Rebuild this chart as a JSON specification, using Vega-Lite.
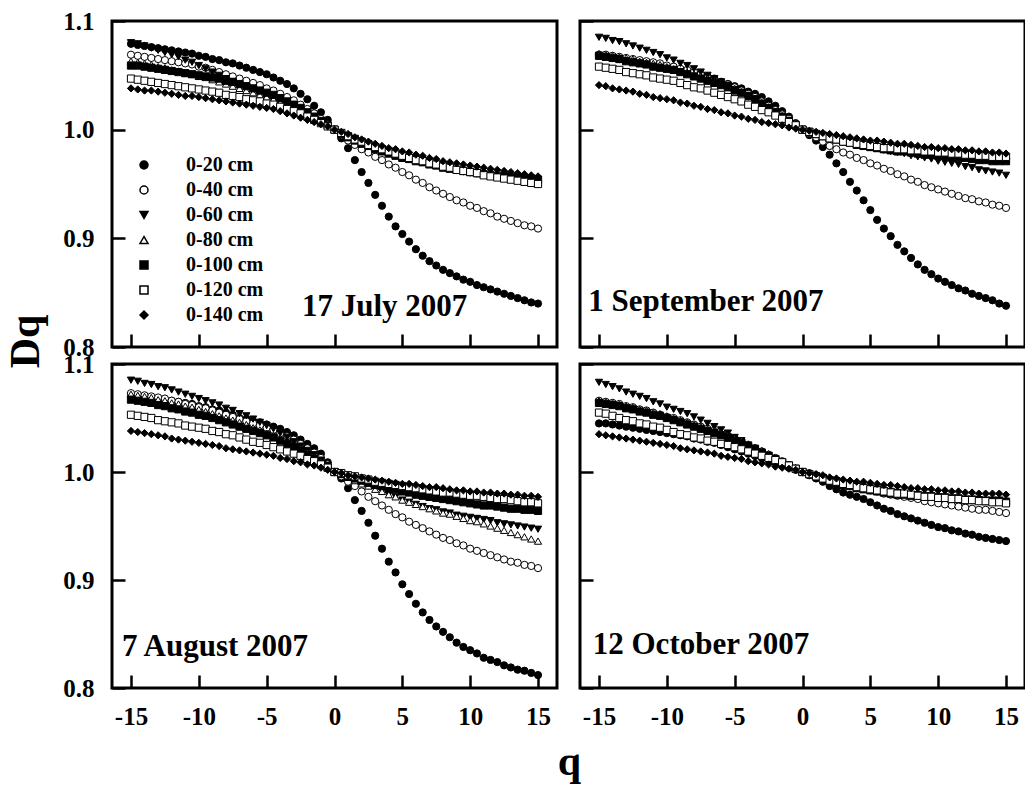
{
  "$schema": "https://vega.github.io/schema/vega-lite/v6.json",
  "background": "white",
  "padding": {"left": 2, "top": 7, "right": 0, "bottom": 0},
  "config": {
    "font": "Liberation Serif",
    "view": {"stroke": "black", "strokeWidth": 3},
    "axis": {
      "grid": false, "domain": false, "ticks": true, "tickColor": "black", "tickWidth": 2.5, "tickSize": -13,
      "labelFont": "Liberation Serif", "labelFontWeight": "bold", "labelFontSize": 25, "labelColor": "black",
      "labelFlush": false, "labelOverlap": false,
      "titleFont": "Liberation Serif", "titleFontWeight": "bold", "titleFontSize": 42, "titleColor": "black"
    }
  },
  "datasets": {
    "jul": [
      {"q":-15,"d":20,"D":1.079},{"q":-14.5,"d":20,"D":1.078},{"q":-14,"d":20,"D":1.077},{"q":-13.5,"d":20,"D":1.076},{"q":-13,"d":20,"D":1.075},{"q":-12.5,"d":20,"D":1.074},{"q":-12,"d":20,"D":1.073},{"q":-11.5,"d":20,"D":1.072},{"q":-11,"d":20,"D":1.071},{"q":-10.5,"d":20,"D":1.07},
      {"q":-10,"d":20,"D":1.068},{"q":-9.5,"d":20,"D":1.067},{"q":-9,"d":20,"D":1.065},{"q":-8.5,"d":20,"D":1.064},{"q":-8,"d":20,"D":1.062},{"q":-7.5,"d":20,"D":1.061},{"q":-7,"d":20,"D":1.059},{"q":-6.5,"d":20,"D":1.057},{"q":-6,"d":20,"D":1.055},{"q":-5.5,"d":20,"D":1.053},
      {"q":-5,"d":20,"D":1.051},{"q":-4.5,"d":20,"D":1.048},{"q":-4,"d":20,"D":1.045},{"q":-3.5,"d":20,"D":1.042},{"q":-3,"d":20,"D":1.038},{"q":-2.5,"d":20,"D":1.033},{"q":-2,"d":20,"D":1.028},{"q":-1.5,"d":20,"D":1.022},{"q":-1,"d":20,"D":1.016},{"q":-0.5,"d":20,"D":1.009},
      {"q":0,"d":20,"D":1},{"q":0.5,"d":20,"D":0.992},{"q":1,"d":20,"D":0.983},{"q":1.5,"d":20,"D":0.972},{"q":2,"d":20,"D":0.961},{"q":2.5,"d":20,"D":0.951},{"q":3,"d":20,"D":0.94},{"q":3.5,"d":20,"D":0.93},{"q":4,"d":20,"D":0.92},{"q":4.5,"d":20,"D":0.911},
      {"q":5,"d":20,"D":0.904},{"q":5.5,"d":20,"D":0.897},{"q":6,"d":20,"D":0.89},{"q":6.5,"d":20,"D":0.884},{"q":7,"d":20,"D":0.879},{"q":7.5,"d":20,"D":0.875},{"q":8,"d":20,"D":0.871},{"q":8.5,"d":20,"D":0.868},{"q":9,"d":20,"D":0.865},{"q":9.5,"d":20,"D":0.862},
      {"q":10,"d":20,"D":0.86},{"q":10.5,"d":20,"D":0.857},{"q":11,"d":20,"D":0.855},{"q":11.5,"d":20,"D":0.853},{"q":12,"d":20,"D":0.851},{"q":12.5,"d":20,"D":0.849},{"q":13,"d":20,"D":0.847},{"q":13.5,"d":20,"D":0.845},{"q":14,"d":20,"D":0.843},{"q":14.5,"d":20,"D":0.841},
      {"q":15,"d":20,"D":0.84},
      {"q":-15,"d":40,"D":1.069},{"q":-14.5,"d":40,"D":1.068},{"q":-14,"d":40,"D":1.067},{"q":-13.5,"d":40,"D":1.066},{"q":-13,"d":40,"D":1.065},{"q":-12.5,"d":40,"D":1.064},{"q":-12,"d":40,"D":1.063},{"q":-11.5,"d":40,"D":1.062},{"q":-11,"d":40,"D":1.061},{"q":-10.5,"d":40,"D":1.06},
      {"q":-10,"d":40,"D":1.058},{"q":-9.5,"d":40,"D":1.057},{"q":-9,"d":40,"D":1.055},{"q":-8.5,"d":40,"D":1.053},{"q":-8,"d":40,"D":1.051},{"q":-7.5,"d":40,"D":1.049},{"q":-7,"d":40,"D":1.047},{"q":-6.5,"d":40,"D":1.045},{"q":-6,"d":40,"D":1.043},{"q":-5.5,"d":40,"D":1.041},
      {"q":-5,"d":40,"D":1.038},{"q":-4.5,"d":40,"D":1.036},{"q":-4,"d":40,"D":1.033},{"q":-3.5,"d":40,"D":1.03},{"q":-3,"d":40,"D":1.027},{"q":-2.5,"d":40,"D":1.023},{"q":-2,"d":40,"D":1.019},{"q":-1.5,"d":40,"D":1.015},{"q":-1,"d":40,"D":1.01},{"q":-0.5,"d":40,"D":1.005},
      {"q":0,"d":40,"D":1},{"q":0.5,"d":40,"D":0.995},{"q":1,"d":40,"D":0.99},{"q":1.5,"d":40,"D":0.986},{"q":2,"d":40,"D":0.982},{"q":2.5,"d":40,"D":0.979},{"q":3,"d":40,"D":0.975},{"q":3.5,"d":40,"D":0.972},{"q":4,"d":40,"D":0.968},{"q":4.5,"d":40,"D":0.965},
      {"q":5,"d":40,"D":0.961},{"q":5.5,"d":40,"D":0.958},{"q":6,"d":40,"D":0.954},{"q":6.5,"d":40,"D":0.951},{"q":7,"d":40,"D":0.947},{"q":7.5,"d":40,"D":0.944},{"q":8,"d":40,"D":0.941},{"q":8.5,"d":40,"D":0.938},{"q":9,"d":40,"D":0.935},{"q":9.5,"d":40,"D":0.933},
      {"q":10,"d":40,"D":0.93},{"q":10.5,"d":40,"D":0.928},{"q":11,"d":40,"D":0.925},{"q":11.5,"d":40,"D":0.923},{"q":12,"d":40,"D":0.92},{"q":12.5,"d":40,"D":0.918},{"q":13,"d":40,"D":0.916},{"q":13.5,"d":40,"D":0.914},{"q":14,"d":40,"D":0.912},{"q":14.5,"d":40,"D":0.911},
      {"q":15,"d":40,"D":0.909},
      {"q":-15,"d":60,"D":1.08},{"q":-14.5,"d":60,"D":1.079},{"q":-14,"d":60,"D":1.077},{"q":-13.5,"d":60,"D":1.075},{"q":-13,"d":60,"D":1.073},{"q":-12.5,"d":60,"D":1.071},{"q":-12,"d":60,"D":1.069},{"q":-11.5,"d":60,"D":1.067},{"q":-11,"d":60,"D":1.064},{"q":-10.5,"d":60,"D":1.062},
      {"q":-10,"d":60,"D":1.059},{"q":-9.5,"d":60,"D":1.056},{"q":-9,"d":60,"D":1.053},{"q":-8.5,"d":60,"D":1.05},{"q":-8,"d":60,"D":1.047},{"q":-7.5,"d":60,"D":1.044},{"q":-7,"d":60,"D":1.041},{"q":-6.5,"d":60,"D":1.038},{"q":-6,"d":60,"D":1.035},{"q":-5.5,"d":60,"D":1.032},
      {"q":-5,"d":60,"D":1.029},{"q":-4.5,"d":60,"D":1.027},{"q":-4,"d":60,"D":1.024},{"q":-3.5,"d":60,"D":1.021},{"q":-3,"d":60,"D":1.018},{"q":-2.5,"d":60,"D":1.015},{"q":-2,"d":60,"D":1.012},{"q":-1.5,"d":60,"D":1.009},{"q":-1,"d":60,"D":1.006},{"q":-0.5,"d":60,"D":1.003},
      {"q":0,"d":60,"D":1},{"q":0.5,"d":60,"D":0.997},{"q":1,"d":60,"D":0.994},{"q":1.5,"d":60,"D":0.992},{"q":2,"d":60,"D":0.989},{"q":2.5,"d":60,"D":0.987},{"q":3,"d":60,"D":0.984},{"q":3.5,"d":60,"D":0.982},{"q":4,"d":60,"D":0.979},{"q":4.5,"d":60,"D":0.977},
      {"q":5,"d":60,"D":0.975},{"q":5.5,"d":60,"D":0.973},{"q":6,"d":60,"D":0.971},{"q":6.5,"d":60,"D":0.97},{"q":7,"d":60,"D":0.968},{"q":7.5,"d":60,"D":0.967},{"q":8,"d":60,"D":0.965},{"q":8.5,"d":60,"D":0.964},{"q":9,"d":60,"D":0.962},{"q":9.5,"d":60,"D":0.961},
      {"q":10,"d":60,"D":0.96},{"q":10.5,"d":60,"D":0.959},{"q":11,"d":60,"D":0.958},{"q":11.5,"d":60,"D":0.957},{"q":12,"d":60,"D":0.956},{"q":12.5,"d":60,"D":0.955},{"q":13,"d":60,"D":0.954},{"q":13.5,"d":60,"D":0.954},{"q":14,"d":60,"D":0.953},{"q":14.5,"d":60,"D":0.952},
      {"q":15,"d":60,"D":0.951},
      {"q":-15,"d":80,"D":1.063},{"q":-14.5,"d":80,"D":1.062},{"q":-14,"d":80,"D":1.061},{"q":-13.5,"d":80,"D":1.06},{"q":-13,"d":80,"D":1.058},{"q":-12.5,"d":80,"D":1.057},{"q":-12,"d":80,"D":1.055},{"q":-11.5,"d":80,"D":1.054},{"q":-11,"d":80,"D":1.052},{"q":-10.5,"d":80,"D":1.051},
      {"q":-10,"d":80,"D":1.049},{"q":-9.5,"d":80,"D":1.048},{"q":-9,"d":80,"D":1.046},{"q":-8.5,"d":80,"D":1.044},{"q":-8,"d":80,"D":1.042},{"q":-7.5,"d":80,"D":1.04},{"q":-7,"d":80,"D":1.038},{"q":-6.5,"d":80,"D":1.036},{"q":-6,"d":80,"D":1.034},{"q":-5.5,"d":80,"D":1.032},
      {"q":-5,"d":80,"D":1.03},{"q":-4.5,"d":80,"D":1.028},{"q":-4,"d":80,"D":1.025},{"q":-3.5,"d":80,"D":1.022},{"q":-3,"d":80,"D":1.019},{"q":-2.5,"d":80,"D":1.016},{"q":-2,"d":80,"D":1.013},{"q":-1.5,"d":80,"D":1.01},{"q":-1,"d":80,"D":1.007},{"q":-0.5,"d":80,"D":1.004},
      {"q":0,"d":80,"D":1},{"q":0.5,"d":80,"D":0.997},{"q":1,"d":80,"D":0.994},{"q":1.5,"d":80,"D":0.991},{"q":2,"d":80,"D":0.988},{"q":2.5,"d":80,"D":0.986},{"q":3,"d":80,"D":0.983},{"q":3.5,"d":80,"D":0.981},{"q":4,"d":80,"D":0.979},{"q":4.5,"d":80,"D":0.978},
      {"q":5,"d":80,"D":0.976},{"q":5.5,"d":80,"D":0.975},{"q":6,"d":80,"D":0.973},{"q":6.5,"d":80,"D":0.972},{"q":7,"d":80,"D":0.97},{"q":7.5,"d":80,"D":0.969},{"q":8,"d":80,"D":0.968},{"q":8.5,"d":80,"D":0.967},{"q":9,"d":80,"D":0.966},{"q":9.5,"d":80,"D":0.965},
      {"q":10,"d":80,"D":0.964},{"q":10.5,"d":80,"D":0.963},{"q":11,"d":80,"D":0.962},{"q":11.5,"d":80,"D":0.961},{"q":12,"d":80,"D":0.96},{"q":12.5,"d":80,"D":0.959},{"q":13,"d":80,"D":0.958},{"q":13.5,"d":80,"D":0.957},{"q":14,"d":80,"D":0.956},{"q":14.5,"d":80,"D":0.955},
      {"q":15,"d":80,"D":0.954},
      {"q":-15,"d":100,"D":1.059},{"q":-14.5,"d":100,"D":1.059},{"q":-14,"d":100,"D":1.058},{"q":-13.5,"d":100,"D":1.057},{"q":-13,"d":100,"D":1.056},{"q":-12.5,"d":100,"D":1.055},{"q":-12,"d":100,"D":1.054},{"q":-11.5,"d":100,"D":1.053},{"q":-11,"d":100,"D":1.052},{"q":-10.5,"d":100,"D":1.051},
      {"q":-10,"d":100,"D":1.05},{"q":-9.5,"d":100,"D":1.049},{"q":-9,"d":100,"D":1.048},{"q":-8.5,"d":100,"D":1.047},{"q":-8,"d":100,"D":1.045},{"q":-7.5,"d":100,"D":1.044},{"q":-7,"d":100,"D":1.042},{"q":-6.5,"d":100,"D":1.04},{"q":-6,"d":100,"D":1.038},{"q":-5.5,"d":100,"D":1.036},
      {"q":-5,"d":100,"D":1.034},{"q":-4.5,"d":100,"D":1.032},{"q":-4,"d":100,"D":1.029},{"q":-3.5,"d":100,"D":1.026},{"q":-3,"d":100,"D":1.023},{"q":-2.5,"d":100,"D":1.02},{"q":-2,"d":100,"D":1.016},{"q":-1.5,"d":100,"D":1.012},{"q":-1,"d":100,"D":1.008},{"q":-0.5,"d":100,"D":1.004},
      {"q":0,"d":100,"D":1},{"q":0.5,"d":100,"D":0.996},{"q":1,"d":100,"D":0.993},{"q":1.5,"d":100,"D":0.99},{"q":2,"d":100,"D":0.987},{"q":2.5,"d":100,"D":0.985},{"q":3,"d":100,"D":0.982},{"q":3.5,"d":100,"D":0.98},{"q":4,"d":100,"D":0.978},{"q":4.5,"d":100,"D":0.976},
      {"q":5,"d":100,"D":0.974},{"q":5.5,"d":100,"D":0.973},{"q":6,"d":100,"D":0.971},{"q":6.5,"d":100,"D":0.97},{"q":7,"d":100,"D":0.968},{"q":7.5,"d":100,"D":0.967},{"q":8,"d":100,"D":0.965},{"q":8.5,"d":100,"D":0.964},{"q":9,"d":100,"D":0.963},{"q":9.5,"d":100,"D":0.962},
      {"q":10,"d":100,"D":0.961},{"q":10.5,"d":100,"D":0.96},{"q":11,"d":100,"D":0.959},{"q":11.5,"d":100,"D":0.958},{"q":12,"d":100,"D":0.957},{"q":12.5,"d":100,"D":0.957},{"q":13,"d":100,"D":0.956},{"q":13.5,"d":100,"D":0.956},{"q":14,"d":100,"D":0.955},{"q":14.5,"d":100,"D":0.955},
      {"q":15,"d":100,"D":0.954},
      {"q":-15,"d":120,"D":1.047},{"q":-14.5,"d":120,"D":1.046},{"q":-14,"d":120,"D":1.045},{"q":-13.5,"d":120,"D":1.044},{"q":-13,"d":120,"D":1.043},{"q":-12.5,"d":120,"D":1.042},{"q":-12,"d":120,"D":1.041},{"q":-11.5,"d":120,"D":1.04},{"q":-11,"d":120,"D":1.039},{"q":-10.5,"d":120,"D":1.038},
      {"q":-10,"d":120,"D":1.037},{"q":-9.5,"d":120,"D":1.036},{"q":-9,"d":120,"D":1.035},{"q":-8.5,"d":120,"D":1.034},{"q":-8,"d":120,"D":1.032},{"q":-7.5,"d":120,"D":1.031},{"q":-7,"d":120,"D":1.03},{"q":-6.5,"d":120,"D":1.028},{"q":-6,"d":120,"D":1.027},{"q":-5.5,"d":120,"D":1.026},
      {"q":-5,"d":120,"D":1.024},{"q":-4.5,"d":120,"D":1.023},{"q":-4,"d":120,"D":1.021},{"q":-3.5,"d":120,"D":1.019},{"q":-3,"d":120,"D":1.017},{"q":-2.5,"d":120,"D":1.015},{"q":-2,"d":120,"D":1.012},{"q":-1.5,"d":120,"D":1.009},{"q":-1,"d":120,"D":1.006},{"q":-0.5,"d":120,"D":1.003},
      {"q":0,"d":120,"D":1},{"q":0.5,"d":120,"D":0.997},{"q":1,"d":120,"D":0.994},{"q":1.5,"d":120,"D":0.991},{"q":2,"d":120,"D":0.989},{"q":2.5,"d":120,"D":0.986},{"q":3,"d":120,"D":0.984},{"q":3.5,"d":120,"D":0.982},{"q":4,"d":120,"D":0.98},{"q":4.5,"d":120,"D":0.978},
      {"q":5,"d":120,"D":0.976},{"q":5.5,"d":120,"D":0.974},{"q":6,"d":120,"D":0.972},{"q":6.5,"d":120,"D":0.971},{"q":7,"d":120,"D":0.969},{"q":7.5,"d":120,"D":0.968},{"q":8,"d":120,"D":0.966},{"q":8.5,"d":120,"D":0.965},{"q":9,"d":120,"D":0.963},{"q":9.5,"d":120,"D":0.962},
      {"q":10,"d":120,"D":0.961},{"q":10.5,"d":120,"D":0.96},{"q":11,"d":120,"D":0.958},{"q":11.5,"d":120,"D":0.957},{"q":12,"d":120,"D":0.956},{"q":12.5,"d":120,"D":0.955},{"q":13,"d":120,"D":0.954},{"q":13.5,"d":120,"D":0.953},{"q":14,"d":120,"D":0.952},{"q":14.5,"d":120,"D":0.951},
      {"q":15,"d":120,"D":0.95},
      {"q":-15,"d":140,"D":1.038},{"q":-14.5,"d":140,"D":1.037},{"q":-14,"d":140,"D":1.036},{"q":-13.5,"d":140,"D":1.036},{"q":-13,"d":140,"D":1.035},{"q":-12.5,"d":140,"D":1.034},{"q":-12,"d":140,"D":1.033},{"q":-11.5,"d":140,"D":1.032},{"q":-11,"d":140,"D":1.031},{"q":-10.5,"d":140,"D":1.031},
      {"q":-10,"d":140,"D":1.03},{"q":-9.5,"d":140,"D":1.029},{"q":-9,"d":140,"D":1.028},{"q":-8.5,"d":140,"D":1.027},{"q":-8,"d":140,"D":1.026},{"q":-7.5,"d":140,"D":1.025},{"q":-7,"d":140,"D":1.024},{"q":-6.5,"d":140,"D":1.023},{"q":-6,"d":140,"D":1.022},{"q":-5.5,"d":140,"D":1.021},
      {"q":-5,"d":140,"D":1.02},{"q":-4.5,"d":140,"D":1.019},{"q":-4,"d":140,"D":1.017},{"q":-3.5,"d":140,"D":1.015},{"q":-3,"d":140,"D":1.013},{"q":-2.5,"d":140,"D":1.011},{"q":-2,"d":140,"D":1.009},{"q":-1.5,"d":140,"D":1.007},{"q":-1,"d":140,"D":1.005},{"q":-0.5,"d":140,"D":1.003},
      {"q":0,"d":140,"D":1},{"q":0.5,"d":140,"D":0.998},{"q":1,"d":140,"D":0.996},{"q":1.5,"d":140,"D":0.993},{"q":2,"d":140,"D":0.991},{"q":2.5,"d":140,"D":0.989},{"q":3,"d":140,"D":0.987},{"q":3.5,"d":140,"D":0.985},{"q":4,"d":140,"D":0.983},{"q":4.5,"d":140,"D":0.982},
      {"q":5,"d":140,"D":0.98},{"q":5.5,"d":140,"D":0.979},{"q":6,"d":140,"D":0.977},{"q":6.5,"d":140,"D":0.976},{"q":7,"d":140,"D":0.974},{"q":7.5,"d":140,"D":0.973},{"q":8,"d":140,"D":0.971},{"q":8.5,"d":140,"D":0.97},{"q":9,"d":140,"D":0.969},{"q":9.5,"d":140,"D":0.968},
      {"q":10,"d":140,"D":0.967},{"q":10.5,"d":140,"D":0.966},{"q":11,"d":140,"D":0.965},{"q":11.5,"d":140,"D":0.964},{"q":12,"d":140,"D":0.963},{"q":12.5,"d":140,"D":0.962},{"q":13,"d":140,"D":0.961},{"q":13.5,"d":140,"D":0.96},{"q":14,"d":140,"D":0.959},{"q":14.5,"d":140,"D":0.958},
      {"q":15,"d":140,"D":0.957}
    ],
    "sep": [
      {"q":-15,"d":20,"D":1.068},{"q":-14.5,"d":20,"D":1.067},{"q":-14,"d":20,"D":1.066},{"q":-13.5,"d":20,"D":1.065},{"q":-13,"d":20,"D":1.064},{"q":-12.5,"d":20,"D":1.063},{"q":-12,"d":20,"D":1.062},{"q":-11.5,"d":20,"D":1.061},{"q":-11,"d":20,"D":1.06},{"q":-10.5,"d":20,"D":1.059},
      {"q":-10,"d":20,"D":1.057},{"q":-9.5,"d":20,"D":1.056},{"q":-9,"d":20,"D":1.054},{"q":-8.5,"d":20,"D":1.053},{"q":-8,"d":20,"D":1.051},{"q":-7.5,"d":20,"D":1.05},{"q":-7,"d":20,"D":1.048},{"q":-6.5,"d":20,"D":1.046},{"q":-6,"d":20,"D":1.044},{"q":-5.5,"d":20,"D":1.042},
      {"q":-5,"d":20,"D":1.04},{"q":-4.5,"d":20,"D":1.038},{"q":-4,"d":20,"D":1.035},{"q":-3.5,"d":20,"D":1.033},{"q":-3,"d":20,"D":1.03},{"q":-2.5,"d":20,"D":1.026},{"q":-2,"d":20,"D":1.022},{"q":-1.5,"d":20,"D":1.017},{"q":-1,"d":20,"D":1.012},{"q":-0.5,"d":20,"D":1.006},
      {"q":0,"d":20,"D":1},{"q":0.5,"d":20,"D":0.995},{"q":1,"d":20,"D":0.99},{"q":1.5,"d":20,"D":0.984},{"q":2,"d":20,"D":0.977},{"q":2.5,"d":20,"D":0.969},{"q":3,"d":20,"D":0.961},{"q":3.5,"d":20,"D":0.952},{"q":4,"d":20,"D":0.944},{"q":4.5,"d":20,"D":0.935},
      {"q":5,"d":20,"D":0.926},{"q":5.5,"d":20,"D":0.917},{"q":6,"d":20,"D":0.909},{"q":6.5,"d":20,"D":0.902},{"q":7,"d":20,"D":0.894},{"q":7.5,"d":20,"D":0.888},{"q":8,"d":20,"D":0.882},{"q":8.5,"d":20,"D":0.876},{"q":9,"d":20,"D":0.871},{"q":9.5,"d":20,"D":0.867},
      {"q":10,"d":20,"D":0.863},{"q":10.5,"d":20,"D":0.86},{"q":11,"d":20,"D":0.857},{"q":11.5,"d":20,"D":0.854},{"q":12,"d":20,"D":0.852},{"q":12.5,"d":20,"D":0.849},{"q":13,"d":20,"D":0.847},{"q":13.5,"d":20,"D":0.845},{"q":14,"d":20,"D":0.843},{"q":14.5,"d":20,"D":0.84},
      {"q":15,"d":20,"D":0.838},
      {"q":-15,"d":40,"D":1.069},{"q":-14.5,"d":40,"D":1.069},{"q":-14,"d":40,"D":1.068},{"q":-13.5,"d":40,"D":1.067},{"q":-13,"d":40,"D":1.066},{"q":-12.5,"d":40,"D":1.065},{"q":-12,"d":40,"D":1.064},{"q":-11.5,"d":40,"D":1.063},{"q":-11,"d":40,"D":1.062},{"q":-10.5,"d":40,"D":1.061},
      {"q":-10,"d":40,"D":1.059},{"q":-9.5,"d":40,"D":1.058},{"q":-9,"d":40,"D":1.056},{"q":-8.5,"d":40,"D":1.055},{"q":-8,"d":40,"D":1.053},{"q":-7.5,"d":40,"D":1.051},{"q":-7,"d":40,"D":1.049},{"q":-6.5,"d":40,"D":1.047},{"q":-6,"d":40,"D":1.044},{"q":-5.5,"d":40,"D":1.042},
      {"q":-5,"d":40,"D":1.039},{"q":-4.5,"d":40,"D":1.036},{"q":-4,"d":40,"D":1.033},{"q":-3.5,"d":40,"D":1.03},{"q":-3,"d":40,"D":1.026},{"q":-2.5,"d":40,"D":1.022},{"q":-2,"d":40,"D":1.018},{"q":-1.5,"d":40,"D":1.014},{"q":-1,"d":40,"D":1.01},{"q":-0.5,"d":40,"D":1.005},
      {"q":0,"d":40,"D":1},{"q":0.5,"d":40,"D":0.997},{"q":1,"d":40,"D":0.993},{"q":1.5,"d":40,"D":0.989},{"q":2,"d":40,"D":0.985},{"q":2.5,"d":40,"D":0.982},{"q":3,"d":40,"D":0.979},{"q":3.5,"d":40,"D":0.977},{"q":4,"d":40,"D":0.974},{"q":4.5,"d":40,"D":0.972},
      {"q":5,"d":40,"D":0.969},{"q":5.5,"d":40,"D":0.967},{"q":6,"d":40,"D":0.964},{"q":6.5,"d":40,"D":0.962},{"q":7,"d":40,"D":0.959},{"q":7.5,"d":40,"D":0.957},{"q":8,"d":40,"D":0.954},{"q":8.5,"d":40,"D":0.952},{"q":9,"d":40,"D":0.949},{"q":9.5,"d":40,"D":0.947},
      {"q":10,"d":40,"D":0.945},{"q":10.5,"d":40,"D":0.943},{"q":11,"d":40,"D":0.941},{"q":11.5,"d":40,"D":0.939},{"q":12,"d":40,"D":0.937},{"q":12.5,"d":40,"D":0.936},{"q":13,"d":40,"D":0.934},{"q":13.5,"d":40,"D":0.933},{"q":14,"d":40,"D":0.931},{"q":14.5,"d":40,"D":0.93},
      {"q":15,"d":40,"D":0.928},
      {"q":-15,"d":60,"D":1.085},{"q":-14.5,"d":60,"D":1.084},{"q":-14,"d":60,"D":1.082},{"q":-13.5,"d":60,"D":1.081},{"q":-13,"d":60,"D":1.079},{"q":-12.5,"d":60,"D":1.077},{"q":-12,"d":60,"D":1.075},{"q":-11.5,"d":60,"D":1.073},{"q":-11,"d":60,"D":1.071},{"q":-10.5,"d":60,"D":1.069},
      {"q":-10,"d":60,"D":1.066},{"q":-9.5,"d":60,"D":1.064},{"q":-9,"d":60,"D":1.061},{"q":-8.5,"d":60,"D":1.059},{"q":-8,"d":60,"D":1.056},{"q":-7.5,"d":60,"D":1.053},{"q":-7,"d":60,"D":1.05},{"q":-6.5,"d":60,"D":1.047},{"q":-6,"d":60,"D":1.044},{"q":-5.5,"d":60,"D":1.041},
      {"q":-5,"d":60,"D":1.037},{"q":-4.5,"d":60,"D":1.034},{"q":-4,"d":60,"D":1.03},{"q":-3.5,"d":60,"D":1.027},{"q":-3,"d":60,"D":1.023},{"q":-2.5,"d":60,"D":1.02},{"q":-2,"d":60,"D":1.016},{"q":-1.5,"d":60,"D":1.012},{"q":-1,"d":60,"D":1.008},{"q":-0.5,"d":60,"D":1.004},
      {"q":0,"d":60,"D":1},{"q":0.5,"d":60,"D":0.998},{"q":1,"d":60,"D":0.996},{"q":1.5,"d":60,"D":0.995},{"q":2,"d":60,"D":0.993},{"q":2.5,"d":60,"D":0.991},{"q":3,"d":60,"D":0.989},{"q":3.5,"d":60,"D":0.988},{"q":4,"d":60,"D":0.986},{"q":4.5,"d":60,"D":0.985},
      {"q":5,"d":60,"D":0.984},{"q":5.5,"d":60,"D":0.983},{"q":6,"d":60,"D":0.981},{"q":6.5,"d":60,"D":0.98},{"q":7,"d":60,"D":0.979},{"q":7.5,"d":60,"D":0.978},{"q":8,"d":60,"D":0.976},{"q":8.5,"d":60,"D":0.975},{"q":9,"d":60,"D":0.974},{"q":9.5,"d":60,"D":0.973},
      {"q":10,"d":60,"D":0.971},{"q":10.5,"d":60,"D":0.97},{"q":11,"d":60,"D":0.969},{"q":11.5,"d":60,"D":0.968},{"q":12,"d":60,"D":0.966},{"q":12.5,"d":60,"D":0.965},{"q":13,"d":60,"D":0.963},{"q":13.5,"d":60,"D":0.962},{"q":14,"d":60,"D":0.961},{"q":14.5,"d":60,"D":0.96},
      {"q":15,"d":60,"D":0.958},
      {"q":-15,"d":80,"D":1.07},{"q":-14.5,"d":80,"D":1.069},{"q":-14,"d":80,"D":1.068},{"q":-13.5,"d":80,"D":1.067},{"q":-13,"d":80,"D":1.066},{"q":-12.5,"d":80,"D":1.065},{"q":-12,"d":80,"D":1.063},{"q":-11.5,"d":80,"D":1.062},{"q":-11,"d":80,"D":1.061},{"q":-10.5,"d":80,"D":1.06},
      {"q":-10,"d":80,"D":1.058},{"q":-9.5,"d":80,"D":1.056},{"q":-9,"d":80,"D":1.054},{"q":-8.5,"d":80,"D":1.053},{"q":-8,"d":80,"D":1.051},{"q":-7.5,"d":80,"D":1.049},{"q":-7,"d":80,"D":1.047},{"q":-6.5,"d":80,"D":1.045},{"q":-6,"d":80,"D":1.043},{"q":-5.5,"d":80,"D":1.041},
      {"q":-5,"d":80,"D":1.038},{"q":-4.5,"d":80,"D":1.035},{"q":-4,"d":80,"D":1.032},{"q":-3.5,"d":80,"D":1.029},{"q":-3,"d":80,"D":1.025},{"q":-2.5,"d":80,"D":1.021},{"q":-2,"d":80,"D":1.017},{"q":-1.5,"d":80,"D":1.013},{"q":-1,"d":80,"D":1.009},{"q":-0.5,"d":80,"D":1.005},
      {"q":0,"d":80,"D":1},{"q":0.5,"d":80,"D":0.998},{"q":1,"d":80,"D":0.996},{"q":1.5,"d":80,"D":0.994},{"q":2,"d":80,"D":0.992},{"q":2.5,"d":80,"D":0.991},{"q":3,"d":80,"D":0.989},{"q":3.5,"d":80,"D":0.988},{"q":4,"d":80,"D":0.986},{"q":4.5,"d":80,"D":0.985},
      {"q":5,"d":80,"D":0.984},{"q":5.5,"d":80,"D":0.983},{"q":6,"d":80,"D":0.982},{"q":6.5,"d":80,"D":0.981},{"q":7,"d":80,"D":0.98},{"q":7.5,"d":80,"D":0.98},{"q":8,"d":80,"D":0.979},{"q":8.5,"d":80,"D":0.979},{"q":9,"d":80,"D":0.978},{"q":9.5,"d":80,"D":0.978},
      {"q":10,"d":80,"D":0.977},{"q":10.5,"d":80,"D":0.977},{"q":11,"d":80,"D":0.976},{"q":11.5,"d":80,"D":0.976},{"q":12,"d":80,"D":0.975},{"q":12.5,"d":80,"D":0.975},{"q":13,"d":80,"D":0.974},{"q":13.5,"d":80,"D":0.974},{"q":14,"d":80,"D":0.973},{"q":14.5,"d":80,"D":0.973},
      {"q":15,"d":80,"D":0.973},
      {"q":-15,"d":100,"D":1.068},{"q":-14.5,"d":100,"D":1.067},{"q":-14,"d":100,"D":1.066},{"q":-13.5,"d":100,"D":1.065},{"q":-13,"d":100,"D":1.063},{"q":-12.5,"d":100,"D":1.062},{"q":-12,"d":100,"D":1.061},{"q":-11.5,"d":100,"D":1.06},{"q":-11,"d":100,"D":1.058},{"q":-10.5,"d":100,"D":1.057},
      {"q":-10,"d":100,"D":1.056},{"q":-9.5,"d":100,"D":1.055},{"q":-9,"d":100,"D":1.053},{"q":-8.5,"d":100,"D":1.051},{"q":-8,"d":100,"D":1.049},{"q":-7.5,"d":100,"D":1.047},{"q":-7,"d":100,"D":1.045},{"q":-6.5,"d":100,"D":1.043},{"q":-6,"d":100,"D":1.041},{"q":-5.5,"d":100,"D":1.039},
      {"q":-5,"d":100,"D":1.036},{"q":-4.5,"d":100,"D":1.034},{"q":-4,"d":100,"D":1.031},{"q":-3.5,"d":100,"D":1.028},{"q":-3,"d":100,"D":1.024},{"q":-2.5,"d":100,"D":1.02},{"q":-2,"d":100,"D":1.016},{"q":-1.5,"d":100,"D":1.012},{"q":-1,"d":100,"D":1.008},{"q":-0.5,"d":100,"D":1.004},
      {"q":0,"d":100,"D":1},{"q":0.5,"d":100,"D":0.998},{"q":1,"d":100,"D":0.996},{"q":1.5,"d":100,"D":0.994},{"q":2,"d":100,"D":0.992},{"q":2.5,"d":100,"D":0.991},{"q":3,"d":100,"D":0.989},{"q":3.5,"d":100,"D":0.988},{"q":4,"d":100,"D":0.986},{"q":4.5,"d":100,"D":0.985},
      {"q":5,"d":100,"D":0.984},{"q":5.5,"d":100,"D":0.983},{"q":6,"d":100,"D":0.982},{"q":6.5,"d":100,"D":0.981},{"q":7,"d":100,"D":0.98},{"q":7.5,"d":100,"D":0.98},{"q":8,"d":100,"D":0.979},{"q":8.5,"d":100,"D":0.978},{"q":9,"d":100,"D":0.977},{"q":9.5,"d":100,"D":0.977},
      {"q":10,"d":100,"D":0.976},{"q":10.5,"d":100,"D":0.976},{"q":11,"d":100,"D":0.975},{"q":11.5,"d":100,"D":0.975},{"q":12,"d":100,"D":0.974},{"q":12.5,"d":100,"D":0.973},{"q":13,"d":100,"D":0.972},{"q":13.5,"d":100,"D":0.972},{"q":14,"d":100,"D":0.971},{"q":14.5,"d":100,"D":0.971},
      {"q":15,"d":100,"D":0.971},
      {"q":-15,"d":120,"D":1.058},{"q":-14.5,"d":120,"D":1.057},{"q":-14,"d":120,"D":1.056},{"q":-13.5,"d":120,"D":1.055},{"q":-13,"d":120,"D":1.053},{"q":-12.5,"d":120,"D":1.052},{"q":-12,"d":120,"D":1.051},{"q":-11.5,"d":120,"D":1.05},{"q":-11,"d":120,"D":1.048},{"q":-10.5,"d":120,"D":1.047},
      {"q":-10,"d":120,"D":1.046},{"q":-9.5,"d":120,"D":1.045},{"q":-9,"d":120,"D":1.043},{"q":-8.5,"d":120,"D":1.041},{"q":-8,"d":120,"D":1.039},{"q":-7.5,"d":120,"D":1.038},{"q":-7,"d":120,"D":1.036},{"q":-6.5,"d":120,"D":1.034},{"q":-6,"d":120,"D":1.032},{"q":-5.5,"d":120,"D":1.03},
      {"q":-5,"d":120,"D":1.028},{"q":-4.5,"d":120,"D":1.026},{"q":-4,"d":120,"D":1.023},{"q":-3.5,"d":120,"D":1.021},{"q":-3,"d":120,"D":1.018},{"q":-2.5,"d":120,"D":1.016},{"q":-2,"d":120,"D":1.013},{"q":-1.5,"d":120,"D":1.01},{"q":-1,"d":120,"D":1.007},{"q":-0.5,"d":120,"D":1.004},
      {"q":0,"d":120,"D":1},{"q":0.5,"d":120,"D":0.998},{"q":1,"d":120,"D":0.996},{"q":1.5,"d":120,"D":0.994},{"q":2,"d":120,"D":0.992},{"q":2.5,"d":120,"D":0.991},{"q":3,"d":120,"D":0.989},{"q":3.5,"d":120,"D":0.988},{"q":4,"d":120,"D":0.987},{"q":4.5,"d":120,"D":0.986},
      {"q":5,"d":120,"D":0.985},{"q":5.5,"d":120,"D":0.984},{"q":6,"d":120,"D":0.983},{"q":6.5,"d":120,"D":0.983},{"q":7,"d":120,"D":0.982},{"q":7.5,"d":120,"D":0.982},{"q":8,"d":120,"D":0.981},{"q":8.5,"d":120,"D":0.981},{"q":9,"d":120,"D":0.98},{"q":9.5,"d":120,"D":0.98},
      {"q":10,"d":120,"D":0.979},{"q":10.5,"d":120,"D":0.979},{"q":11,"d":120,"D":0.978},{"q":11.5,"d":120,"D":0.978},{"q":12,"d":120,"D":0.977},{"q":12.5,"d":120,"D":0.977},{"q":13,"d":120,"D":0.976},{"q":13.5,"d":120,"D":0.976},{"q":14,"d":120,"D":0.975},{"q":14.5,"d":120,"D":0.975},
      {"q":15,"d":120,"D":0.975},
      {"q":-15,"d":140,"D":1.041},{"q":-14.5,"d":140,"D":1.04},{"q":-14,"d":140,"D":1.038},{"q":-13.5,"d":140,"D":1.037},{"q":-13,"d":140,"D":1.036},{"q":-12.5,"d":140,"D":1.035},{"q":-12,"d":140,"D":1.033},{"q":-11.5,"d":140,"D":1.032},{"q":-11,"d":140,"D":1.03},{"q":-10.5,"d":140,"D":1.029},
      {"q":-10,"d":140,"D":1.028},{"q":-9.5,"d":140,"D":1.027},{"q":-9,"d":140,"D":1.025},{"q":-8.5,"d":140,"D":1.024},{"q":-8,"d":140,"D":1.022},{"q":-7.5,"d":140,"D":1.021},{"q":-7,"d":140,"D":1.019},{"q":-6.5,"d":140,"D":1.018},{"q":-6,"d":140,"D":1.016},{"q":-5.5,"d":140,"D":1.015},
      {"q":-5,"d":140,"D":1.013},{"q":-4.5,"d":140,"D":1.012},{"q":-4,"d":140,"D":1.01},{"q":-3.5,"d":140,"D":1.009},{"q":-3,"d":140,"D":1.007},{"q":-2.5,"d":140,"D":1.006},{"q":-2,"d":140,"D":1.005},{"q":-1.5,"d":140,"D":1.004},{"q":-1,"d":140,"D":1.002},{"q":-0.5,"d":140,"D":1.001},
      {"q":0,"d":140,"D":1},{"q":0.5,"d":140,"D":0.999},{"q":1,"d":140,"D":0.998},{"q":1.5,"d":140,"D":0.997},{"q":2,"d":140,"D":0.996},{"q":2.5,"d":140,"D":0.995},{"q":3,"d":140,"D":0.994},{"q":3.5,"d":140,"D":0.993},{"q":4,"d":140,"D":0.992},{"q":4.5,"d":140,"D":0.991},
      {"q":5,"d":140,"D":0.99},{"q":5.5,"d":140,"D":0.99},{"q":6,"d":140,"D":0.989},{"q":6.5,"d":140,"D":0.988},{"q":7,"d":140,"D":0.987},{"q":7.5,"d":140,"D":0.987},{"q":8,"d":140,"D":0.986},{"q":8.5,"d":140,"D":0.985},{"q":9,"d":140,"D":0.984},{"q":9.5,"d":140,"D":0.984},
      {"q":10,"d":140,"D":0.983},{"q":10.5,"d":140,"D":0.983},{"q":11,"d":140,"D":0.982},{"q":11.5,"d":140,"D":0.982},{"q":12,"d":140,"D":0.981},{"q":12.5,"d":140,"D":0.981},{"q":13,"d":140,"D":0.98},{"q":13.5,"d":140,"D":0.98},{"q":14,"d":140,"D":0.979},{"q":14.5,"d":140,"D":0.979},
      {"q":15,"d":140,"D":0.978}
    ],
    "aug": [
      {"q":-15,"d":20,"D":1.072},{"q":-14.5,"d":20,"D":1.071},{"q":-14,"d":20,"D":1.07},{"q":-13.5,"d":20,"D":1.069},{"q":-13,"d":20,"D":1.068},{"q":-12.5,"d":20,"D":1.067},{"q":-12,"d":20,"D":1.066},{"q":-11.5,"d":20,"D":1.065},{"q":-11,"d":20,"D":1.064},{"q":-10.5,"d":20,"D":1.063},
      {"q":-10,"d":20,"D":1.061},{"q":-9.5,"d":20,"D":1.06},{"q":-9,"d":20,"D":1.058},{"q":-8.5,"d":20,"D":1.057},{"q":-8,"d":20,"D":1.055},{"q":-7.5,"d":20,"D":1.053},{"q":-7,"d":20,"D":1.05},{"q":-6.5,"d":20,"D":1.049},{"q":-6,"d":20,"D":1.047},{"q":-5.5,"d":20,"D":1.046},
      {"q":-5,"d":20,"D":1.044},{"q":-4.5,"d":20,"D":1.042},{"q":-4,"d":20,"D":1.04},{"q":-3.5,"d":20,"D":1.037},{"q":-3,"d":20,"D":1.034},{"q":-2.5,"d":20,"D":1.03},{"q":-2,"d":20,"D":1.026},{"q":-1.5,"d":20,"D":1.022},{"q":-1,"d":20,"D":1.017},{"q":-0.5,"d":20,"D":1.009},
      {"q":0,"d":20,"D":1},{"q":0.5,"d":20,"D":0.994},{"q":1,"d":20,"D":0.985},{"q":1.5,"d":20,"D":0.974},{"q":2,"d":20,"D":0.964},{"q":2.5,"d":20,"D":0.953},{"q":3,"d":20,"D":0.941},{"q":3.5,"d":20,"D":0.929},{"q":4,"d":20,"D":0.917},{"q":4.5,"d":20,"D":0.907},
      {"q":5,"d":20,"D":0.896},{"q":5.5,"d":20,"D":0.887},{"q":6,"d":20,"D":0.878},{"q":6.5,"d":20,"D":0.87},{"q":7,"d":20,"D":0.863},{"q":7.5,"d":20,"D":0.857},{"q":8,"d":20,"D":0.852},{"q":8.5,"d":20,"D":0.847},{"q":9,"d":20,"D":0.842},{"q":9.5,"d":20,"D":0.838},
      {"q":10,"d":20,"D":0.835},{"q":10.5,"d":20,"D":0.832},{"q":11,"d":20,"D":0.828},{"q":11.5,"d":20,"D":0.826},{"q":12,"d":20,"D":0.824},{"q":12.5,"d":20,"D":0.821},{"q":13,"d":20,"D":0.819},{"q":13.5,"d":20,"D":0.817},{"q":14,"d":20,"D":0.816},{"q":14.5,"d":20,"D":0.814},
      {"q":15,"d":20,"D":0.812},
      {"q":-15,"d":40,"D":1.073},{"q":-14.5,"d":40,"D":1.072},{"q":-14,"d":40,"D":1.071},{"q":-13.5,"d":40,"D":1.07},{"q":-13,"d":40,"D":1.069},{"q":-12.5,"d":40,"D":1.068},{"q":-12,"d":40,"D":1.066},{"q":-11.5,"d":40,"D":1.065},{"q":-11,"d":40,"D":1.063},{"q":-10.5,"d":40,"D":1.062},
      {"q":-10,"d":40,"D":1.06},{"q":-9.5,"d":40,"D":1.059},{"q":-9,"d":40,"D":1.057},{"q":-8.5,"d":40,"D":1.055},{"q":-8,"d":40,"D":1.053},{"q":-7.5,"d":40,"D":1.051},{"q":-7,"d":40,"D":1.049},{"q":-6.5,"d":40,"D":1.047},{"q":-6,"d":40,"D":1.045},{"q":-5.5,"d":40,"D":1.043},
      {"q":-5,"d":40,"D":1.041},{"q":-4.5,"d":40,"D":1.039},{"q":-4,"d":40,"D":1.036},{"q":-3.5,"d":40,"D":1.033},{"q":-3,"d":40,"D":1.03},{"q":-2.5,"d":40,"D":1.026},{"q":-2,"d":40,"D":1.022},{"q":-1.5,"d":40,"D":1.018},{"q":-1,"d":40,"D":1.013},{"q":-0.5,"d":40,"D":1.007},
      {"q":0,"d":40,"D":1},{"q":0.5,"d":40,"D":0.996},{"q":1,"d":40,"D":0.991},{"q":1.5,"d":40,"D":0.987},{"q":2,"d":40,"D":0.982},{"q":2.5,"d":40,"D":0.977},{"q":3,"d":40,"D":0.973},{"q":3.5,"d":40,"D":0.969},{"q":4,"d":40,"D":0.965},{"q":4.5,"d":40,"D":0.961},
      {"q":5,"d":40,"D":0.958},{"q":5.5,"d":40,"D":0.954},{"q":6,"d":40,"D":0.951},{"q":6.5,"d":40,"D":0.948},{"q":7,"d":40,"D":0.945},{"q":7.5,"d":40,"D":0.942},{"q":8,"d":40,"D":0.939},{"q":8.5,"d":40,"D":0.937},{"q":9,"d":40,"D":0.934},{"q":9.5,"d":40,"D":0.932},
      {"q":10,"d":40,"D":0.929},{"q":10.5,"d":40,"D":0.927},{"q":11,"d":40,"D":0.925},{"q":11.5,"d":40,"D":0.923},{"q":12,"d":40,"D":0.921},{"q":12.5,"d":40,"D":0.919},{"q":13,"d":40,"D":0.917},{"q":13.5,"d":40,"D":0.916},{"q":14,"d":40,"D":0.914},{"q":14.5,"d":40,"D":0.913},
      {"q":15,"d":40,"D":0.911},
      {"q":-15,"d":60,"D":1.085},{"q":-14.5,"d":60,"D":1.084},{"q":-14,"d":60,"D":1.082},{"q":-13.5,"d":60,"D":1.081},{"q":-13,"d":60,"D":1.079},{"q":-12.5,"d":60,"D":1.078},{"q":-12,"d":60,"D":1.076},{"q":-11.5,"d":60,"D":1.074},{"q":-11,"d":60,"D":1.072},{"q":-10.5,"d":60,"D":1.07},
      {"q":-10,"d":60,"D":1.068},{"q":-9.5,"d":60,"D":1.066},{"q":-9,"d":60,"D":1.064},{"q":-8.5,"d":60,"D":1.062},{"q":-8,"d":60,"D":1.059},{"q":-7.5,"d":60,"D":1.057},{"q":-7,"d":60,"D":1.054},{"q":-6.5,"d":60,"D":1.052},{"q":-6,"d":60,"D":1.049},{"q":-5.5,"d":60,"D":1.046},
      {"q":-5,"d":60,"D":1.043},{"q":-4.5,"d":60,"D":1.04},{"q":-4,"d":60,"D":1.036},{"q":-3.5,"d":60,"D":1.032},{"q":-3,"d":60,"D":1.028},{"q":-2.5,"d":60,"D":1.024},{"q":-2,"d":60,"D":1.02},{"q":-1.5,"d":60,"D":1.016},{"q":-1,"d":60,"D":1.011},{"q":-0.5,"d":60,"D":1.006},
      {"q":0,"d":60,"D":1},{"q":0.5,"d":60,"D":0.998},{"q":1,"d":60,"D":0.995},{"q":1.5,"d":60,"D":0.992},{"q":2,"d":60,"D":0.989},{"q":2.5,"d":60,"D":0.987},{"q":3,"d":60,"D":0.984},{"q":3.5,"d":60,"D":0.982},{"q":4,"d":60,"D":0.979},{"q":4.5,"d":60,"D":0.977},
      {"q":5,"d":60,"D":0.974},{"q":5.5,"d":60,"D":0.972},{"q":6,"d":60,"D":0.97},{"q":6.5,"d":60,"D":0.968},{"q":7,"d":60,"D":0.966},{"q":7.5,"d":60,"D":0.965},{"q":8,"d":60,"D":0.963},{"q":8.5,"d":60,"D":0.962},{"q":9,"d":60,"D":0.96},{"q":9.5,"d":60,"D":0.959},
      {"q":10,"d":60,"D":0.958},{"q":10.5,"d":60,"D":0.957},{"q":11,"d":60,"D":0.956},{"q":11.5,"d":60,"D":0.955},{"q":12,"d":60,"D":0.953},{"q":12.5,"d":60,"D":0.952},{"q":13,"d":60,"D":0.951},{"q":13.5,"d":60,"D":0.95},{"q":14,"d":60,"D":0.949},{"q":14.5,"d":60,"D":0.948},
      {"q":15,"d":60,"D":0.947},
      {"q":-15,"d":80,"D":1.072},{"q":-14.5,"d":80,"D":1.071},{"q":-14,"d":80,"D":1.07},{"q":-13.5,"d":80,"D":1.069},{"q":-13,"d":80,"D":1.067},{"q":-12.5,"d":80,"D":1.066},{"q":-12,"d":80,"D":1.064},{"q":-11.5,"d":80,"D":1.063},{"q":-11,"d":80,"D":1.061},{"q":-10.5,"d":80,"D":1.06},
      {"q":-10,"d":80,"D":1.058},{"q":-9.5,"d":80,"D":1.056},{"q":-9,"d":80,"D":1.054},{"q":-8.5,"d":80,"D":1.052},{"q":-8,"d":80,"D":1.05},{"q":-7.5,"d":80,"D":1.048},{"q":-7,"d":80,"D":1.046},{"q":-6.5,"d":80,"D":1.044},{"q":-6,"d":80,"D":1.041},{"q":-5.5,"d":80,"D":1.039},
      {"q":-5,"d":80,"D":1.036},{"q":-4.5,"d":80,"D":1.034},{"q":-4,"d":80,"D":1.031},{"q":-3.5,"d":80,"D":1.028},{"q":-3,"d":80,"D":1.025},{"q":-2.5,"d":80,"D":1.022},{"q":-2,"d":80,"D":1.018},{"q":-1.5,"d":80,"D":1.014},{"q":-1,"d":80,"D":1.01},{"q":-0.5,"d":80,"D":1.005},
      {"q":0,"d":80,"D":1},{"q":0.5,"d":80,"D":0.998},{"q":1,"d":80,"D":0.995},{"q":1.5,"d":80,"D":0.992},{"q":2,"d":80,"D":0.989},{"q":2.5,"d":80,"D":0.987},{"q":3,"d":80,"D":0.984},{"q":3.5,"d":80,"D":0.982},{"q":4,"d":80,"D":0.979},{"q":4.5,"d":80,"D":0.977},
      {"q":5,"d":80,"D":0.974},{"q":5.5,"d":80,"D":0.972},{"q":6,"d":80,"D":0.97},{"q":6.5,"d":80,"D":0.968},{"q":7,"d":80,"D":0.966},{"q":7.5,"d":80,"D":0.964},{"q":8,"d":80,"D":0.962},{"q":8.5,"d":80,"D":0.961},{"q":9,"d":80,"D":0.959},{"q":9.5,"d":80,"D":0.957},
      {"q":10,"d":80,"D":0.955},{"q":10.5,"d":80,"D":0.954},{"q":11,"d":80,"D":0.952},{"q":11.5,"d":80,"D":0.95},{"q":12,"d":80,"D":0.948},{"q":12.5,"d":80,"D":0.946},{"q":13,"d":80,"D":0.944},{"q":13.5,"d":80,"D":0.942},{"q":14,"d":80,"D":0.94},{"q":14.5,"d":80,"D":0.938},
      {"q":15,"d":80,"D":0.936},
      {"q":-15,"d":100,"D":1.067},{"q":-14.5,"d":100,"D":1.066},{"q":-14,"d":100,"D":1.065},{"q":-13.5,"d":100,"D":1.064},{"q":-13,"d":100,"D":1.062},{"q":-12.5,"d":100,"D":1.061},{"q":-12,"d":100,"D":1.059},{"q":-11.5,"d":100,"D":1.058},{"q":-11,"d":100,"D":1.056},{"q":-10.5,"d":100,"D":1.055},
      {"q":-10,"d":100,"D":1.053},{"q":-9.5,"d":100,"D":1.052},{"q":-9,"d":100,"D":1.05},{"q":-8.5,"d":100,"D":1.048},{"q":-8,"d":100,"D":1.046},{"q":-7.5,"d":100,"D":1.044},{"q":-7,"d":100,"D":1.042},{"q":-6.5,"d":100,"D":1.04},{"q":-6,"d":100,"D":1.038},{"q":-5.5,"d":100,"D":1.036},
      {"q":-5,"d":100,"D":1.034},{"q":-4.5,"d":100,"D":1.032},{"q":-4,"d":100,"D":1.029},{"q":-3.5,"d":100,"D":1.026},{"q":-3,"d":100,"D":1.023},{"q":-2.5,"d":100,"D":1.02},{"q":-2,"d":100,"D":1.016},{"q":-1.5,"d":100,"D":1.012},{"q":-1,"d":100,"D":1.008},{"q":-0.5,"d":100,"D":1.004},
      {"q":0,"d":100,"D":1},{"q":0.5,"d":100,"D":0.998},{"q":1,"d":100,"D":0.996},{"q":1.5,"d":100,"D":0.994},{"q":2,"d":100,"D":0.992},{"q":2.5,"d":100,"D":0.99},{"q":3,"d":100,"D":0.988},{"q":3.5,"d":100,"D":0.987},{"q":4,"d":100,"D":0.985},{"q":4.5,"d":100,"D":0.984},
      {"q":5,"d":100,"D":0.982},{"q":5.5,"d":100,"D":0.981},{"q":6,"d":100,"D":0.979},{"q":6.5,"d":100,"D":0.978},{"q":7,"d":100,"D":0.977},{"q":7.5,"d":100,"D":0.976},{"q":8,"d":100,"D":0.975},{"q":8.5,"d":100,"D":0.974},{"q":9,"d":100,"D":0.973},{"q":9.5,"d":100,"D":0.972},
      {"q":10,"d":100,"D":0.971},{"q":10.5,"d":100,"D":0.97},{"q":11,"d":100,"D":0.969},{"q":11.5,"d":100,"D":0.969},{"q":12,"d":100,"D":0.968},{"q":12.5,"d":100,"D":0.967},{"q":13,"d":100,"D":0.966},{"q":13.5,"d":100,"D":0.966},{"q":14,"d":100,"D":0.965},{"q":14.5,"d":100,"D":0.965},
      {"q":15,"d":100,"D":0.964},
      {"q":-15,"d":120,"D":1.053},{"q":-14.5,"d":120,"D":1.052},{"q":-14,"d":120,"D":1.051},{"q":-13.5,"d":120,"D":1.05},{"q":-13,"d":120,"D":1.048},{"q":-12.5,"d":120,"D":1.047},{"q":-12,"d":120,"D":1.046},{"q":-11.5,"d":120,"D":1.045},{"q":-11,"d":120,"D":1.043},{"q":-10.5,"d":120,"D":1.042},
      {"q":-10,"d":120,"D":1.041},{"q":-9.5,"d":120,"D":1.04},{"q":-9,"d":120,"D":1.038},{"q":-8.5,"d":120,"D":1.037},{"q":-8,"d":120,"D":1.035},{"q":-7.5,"d":120,"D":1.034},{"q":-7,"d":120,"D":1.032},{"q":-6.5,"d":120,"D":1.03},{"q":-6,"d":120,"D":1.028},{"q":-5.5,"d":120,"D":1.027},
      {"q":-5,"d":120,"D":1.025},{"q":-4.5,"d":120,"D":1.023},{"q":-4,"d":120,"D":1.021},{"q":-3.5,"d":120,"D":1.019},{"q":-3,"d":120,"D":1.017},{"q":-2.5,"d":120,"D":1.015},{"q":-2,"d":120,"D":1.012},{"q":-1.5,"d":120,"D":1.01},{"q":-1,"d":120,"D":1.007},{"q":-0.5,"d":120,"D":1.004},
      {"q":0,"d":120,"D":1},{"q":0.5,"d":120,"D":0.999},{"q":1,"d":120,"D":0.997},{"q":1.5,"d":120,"D":0.996},{"q":2,"d":120,"D":0.994},{"q":2.5,"d":120,"D":0.993},{"q":3,"d":120,"D":0.991},{"q":3.5,"d":120,"D":0.99},{"q":4,"d":120,"D":0.989},{"q":4.5,"d":120,"D":0.988},
      {"q":5,"d":120,"D":0.987},{"q":5.5,"d":120,"D":0.986},{"q":6,"d":120,"D":0.985},{"q":6.5,"d":120,"D":0.984},{"q":7,"d":120,"D":0.983},{"q":7.5,"d":120,"D":0.982},{"q":8,"d":120,"D":0.981},{"q":8.5,"d":120,"D":0.981},{"q":9,"d":120,"D":0.98},{"q":9.5,"d":120,"D":0.979},
      {"q":10,"d":120,"D":0.978},{"q":10.5,"d":120,"D":0.978},{"q":11,"d":120,"D":0.977},{"q":11.5,"d":120,"D":0.976},{"q":12,"d":120,"D":0.975},{"q":12.5,"d":120,"D":0.975},{"q":13,"d":120,"D":0.974},{"q":13.5,"d":120,"D":0.973},{"q":14,"d":120,"D":0.972},{"q":14.5,"d":120,"D":0.972},
      {"q":15,"d":120,"D":0.971},
      {"q":-15,"d":140,"D":1.038},{"q":-14.5,"d":140,"D":1.037},{"q":-14,"d":140,"D":1.036},{"q":-13.5,"d":140,"D":1.035},{"q":-13,"d":140,"D":1.034},{"q":-12.5,"d":140,"D":1.033},{"q":-12,"d":140,"D":1.031},{"q":-11.5,"d":140,"D":1.03},{"q":-11,"d":140,"D":1.029},{"q":-10.5,"d":140,"D":1.028},
      {"q":-10,"d":140,"D":1.027},{"q":-9.5,"d":140,"D":1.026},{"q":-9,"d":140,"D":1.025},{"q":-8.5,"d":140,"D":1.024},{"q":-8,"d":140,"D":1.022},{"q":-7.5,"d":140,"D":1.021},{"q":-7,"d":140,"D":1.02},{"q":-6.5,"d":140,"D":1.019},{"q":-6,"d":140,"D":1.018},{"q":-5.5,"d":140,"D":1.017},
      {"q":-5,"d":140,"D":1.016},{"q":-4.5,"d":140,"D":1.015},{"q":-4,"d":140,"D":1.013},{"q":-3.5,"d":140,"D":1.012},{"q":-3,"d":140,"D":1.01},{"q":-2.5,"d":140,"D":1.009},{"q":-2,"d":140,"D":1.007},{"q":-1.5,"d":140,"D":1.006},{"q":-1,"d":140,"D":1.004},{"q":-0.5,"d":140,"D":1.002},
      {"q":0,"d":140,"D":1},{"q":0.5,"d":140,"D":0.999},{"q":1,"d":140,"D":0.997},{"q":1.5,"d":140,"D":0.996},{"q":2,"d":140,"D":0.995},{"q":2.5,"d":140,"D":0.994},{"q":3,"d":140,"D":0.993},{"q":3.5,"d":140,"D":0.992},{"q":4,"d":140,"D":0.991},{"q":4.5,"d":140,"D":0.99},
      {"q":5,"d":140,"D":0.989},{"q":5.5,"d":140,"D":0.989},{"q":6,"d":140,"D":0.988},{"q":6.5,"d":140,"D":0.987},{"q":7,"d":140,"D":0.986},{"q":7.5,"d":140,"D":0.986},{"q":8,"d":140,"D":0.985},{"q":8.5,"d":140,"D":0.984},{"q":9,"d":140,"D":0.983},{"q":9.5,"d":140,"D":0.983},
      {"q":10,"d":140,"D":0.982},{"q":10.5,"d":140,"D":0.982},{"q":11,"d":140,"D":0.981},{"q":11.5,"d":140,"D":0.981},{"q":12,"d":140,"D":0.98},{"q":12.5,"d":140,"D":0.98},{"q":13,"d":140,"D":0.979},{"q":13.5,"d":140,"D":0.979},{"q":14,"d":140,"D":0.978},{"q":14.5,"d":140,"D":0.978},
      {"q":15,"d":140,"D":0.977}
    ],
    "oct": [
      {"q":-15,"d":20,"D":1.045},{"q":-14.5,"d":20,"D":1.045},{"q":-14,"d":20,"D":1.044},{"q":-13.5,"d":20,"D":1.043},{"q":-13,"d":20,"D":1.042},{"q":-12.5,"d":20,"D":1.041},{"q":-12,"d":20,"D":1.04},{"q":-11.5,"d":20,"D":1.039},{"q":-11,"d":20,"D":1.038},{"q":-10.5,"d":20,"D":1.037},
      {"q":-10,"d":20,"D":1.036},{"q":-9.5,"d":20,"D":1.035},{"q":-9,"d":20,"D":1.034},{"q":-8.5,"d":20,"D":1.033},{"q":-8,"d":20,"D":1.031},{"q":-7.5,"d":20,"D":1.03},{"q":-7,"d":20,"D":1.028},{"q":-6.5,"d":20,"D":1.027},{"q":-6,"d":20,"D":1.025},{"q":-5.5,"d":20,"D":1.023},
      {"q":-5,"d":20,"D":1.021},{"q":-4.5,"d":20,"D":1.019},{"q":-4,"d":20,"D":1.017},{"q":-3.5,"d":20,"D":1.015},{"q":-3,"d":20,"D":1.013},{"q":-2.5,"d":20,"D":1.011},{"q":-2,"d":20,"D":1.009},{"q":-1.5,"d":20,"D":1.007},{"q":-1,"d":20,"D":1.004},{"q":-0.5,"d":20,"D":1.002},
      {"q":0,"d":20,"D":1},{"q":0.5,"d":20,"D":0.997},{"q":1,"d":20,"D":0.994},{"q":1.5,"d":20,"D":0.991},{"q":2,"d":20,"D":0.987},{"q":2.5,"d":20,"D":0.984},{"q":3,"d":20,"D":0.981},{"q":3.5,"d":20,"D":0.979},{"q":4,"d":20,"D":0.977},{"q":4.5,"d":20,"D":0.975},
      {"q":5,"d":20,"D":0.972},{"q":5.5,"d":20,"D":0.969},{"q":6,"d":20,"D":0.966},{"q":6.5,"d":20,"D":0.964},{"q":7,"d":20,"D":0.961},{"q":7.5,"d":20,"D":0.959},{"q":8,"d":20,"D":0.957},{"q":8.5,"d":20,"D":0.955},{"q":9,"d":20,"D":0.953},{"q":9.5,"d":20,"D":0.951},
      {"q":10,"d":20,"D":0.949},{"q":10.5,"d":20,"D":0.948},{"q":11,"d":20,"D":0.946},{"q":11.5,"d":20,"D":0.945},{"q":12,"d":20,"D":0.943},{"q":12.5,"d":20,"D":0.942},{"q":13,"d":20,"D":0.94},{"q":13.5,"d":20,"D":0.939},{"q":14,"d":20,"D":0.938},{"q":14.5,"d":20,"D":0.937},
      {"q":15,"d":20,"D":0.936},
      {"q":-15,"d":40,"D":1.066},{"q":-14.5,"d":40,"D":1.065},{"q":-14,"d":40,"D":1.064},{"q":-13.5,"d":40,"D":1.063},{"q":-13,"d":40,"D":1.061},{"q":-12.5,"d":40,"D":1.06},{"q":-12,"d":40,"D":1.058},{"q":-11.5,"d":40,"D":1.057},{"q":-11,"d":40,"D":1.055},{"q":-10.5,"d":40,"D":1.053},
      {"q":-10,"d":40,"D":1.051},{"q":-9.5,"d":40,"D":1.05},{"q":-9,"d":40,"D":1.048},{"q":-8.5,"d":40,"D":1.046},{"q":-8,"d":40,"D":1.044},{"q":-7.5,"d":40,"D":1.042},{"q":-7,"d":40,"D":1.04},{"q":-6.5,"d":40,"D":1.038},{"q":-6,"d":40,"D":1.035},{"q":-5.5,"d":40,"D":1.033},
      {"q":-5,"d":40,"D":1.031},{"q":-4.5,"d":40,"D":1.028},{"q":-4,"d":40,"D":1.025},{"q":-3.5,"d":40,"D":1.022},{"q":-3,"d":40,"D":1.019},{"q":-2.5,"d":40,"D":1.016},{"q":-2,"d":40,"D":1.013},{"q":-1.5,"d":40,"D":1.01},{"q":-1,"d":40,"D":1.006},{"q":-0.5,"d":40,"D":1.003},
      {"q":0,"d":40,"D":1},{"q":0.5,"d":40,"D":0.999},{"q":1,"d":40,"D":0.997},{"q":1.5,"d":40,"D":0.995},{"q":2,"d":40,"D":0.993},{"q":2.5,"d":40,"D":0.991},{"q":3,"d":40,"D":0.989},{"q":3.5,"d":40,"D":0.988},{"q":4,"d":40,"D":0.986},{"q":4.5,"d":40,"D":0.985},
      {"q":5,"d":40,"D":0.983},{"q":5.5,"d":40,"D":0.982},{"q":6,"d":40,"D":0.98},{"q":6.5,"d":40,"D":0.979},{"q":7,"d":40,"D":0.978},{"q":7.5,"d":40,"D":0.977},{"q":8,"d":40,"D":0.976},{"q":8.5,"d":40,"D":0.975},{"q":9,"d":40,"D":0.973},{"q":9.5,"d":40,"D":0.972},
      {"q":10,"d":40,"D":0.971},{"q":10.5,"d":40,"D":0.97},{"q":11,"d":40,"D":0.969},{"q":11.5,"d":40,"D":0.968},{"q":12,"d":40,"D":0.967},{"q":12.5,"d":40,"D":0.966},{"q":13,"d":40,"D":0.965},{"q":13.5,"d":40,"D":0.965},{"q":14,"d":40,"D":0.964},{"q":14.5,"d":40,"D":0.963},
      {"q":15,"d":40,"D":0.962},
      {"q":-15,"d":60,"D":1.083},{"q":-14.5,"d":60,"D":1.081},{"q":-14,"d":60,"D":1.079},{"q":-13.5,"d":60,"D":1.077},{"q":-13,"d":60,"D":1.074},{"q":-12.5,"d":60,"D":1.072},{"q":-12,"d":60,"D":1.07},{"q":-11.5,"d":60,"D":1.068},{"q":-11,"d":60,"D":1.065},{"q":-10.5,"d":60,"D":1.063},
      {"q":-10,"d":60,"D":1.06},{"q":-9.5,"d":60,"D":1.058},{"q":-9,"d":60,"D":1.056},{"q":-8.5,"d":60,"D":1.054},{"q":-8,"d":60,"D":1.051},{"q":-7.5,"d":60,"D":1.048},{"q":-7,"d":60,"D":1.045},{"q":-6.5,"d":60,"D":1.042},{"q":-6,"d":60,"D":1.039},{"q":-5.5,"d":60,"D":1.036},
      {"q":-5,"d":60,"D":1.032},{"q":-4.5,"d":60,"D":1.029},{"q":-4,"d":60,"D":1.025},{"q":-3.5,"d":60,"D":1.022},{"q":-3,"d":60,"D":1.018},{"q":-2.5,"d":60,"D":1.015},{"q":-2,"d":60,"D":1.012},{"q":-1.5,"d":60,"D":1.009},{"q":-1,"d":60,"D":1.006},{"q":-0.5,"d":60,"D":1.003},
      {"q":0,"d":60,"D":1},{"q":0.5,"d":60,"D":0.998},{"q":1,"d":60,"D":0.996},{"q":1.5,"d":60,"D":0.995},{"q":2,"d":60,"D":0.993},{"q":2.5,"d":60,"D":0.992},{"q":3,"d":60,"D":0.99},{"q":3.5,"d":60,"D":0.989},{"q":4,"d":60,"D":0.987},{"q":4.5,"d":60,"D":0.986},
      {"q":5,"d":60,"D":0.985},{"q":5.5,"d":60,"D":0.984},{"q":6,"d":60,"D":0.983},{"q":6.5,"d":60,"D":0.982},{"q":7,"d":60,"D":0.981},{"q":7.5,"d":60,"D":0.98},{"q":8,"d":60,"D":0.979},{"q":8.5,"d":60,"D":0.979},{"q":9,"d":60,"D":0.978},{"q":9.5,"d":60,"D":0.978},
      {"q":10,"d":60,"D":0.977},{"q":10.5,"d":60,"D":0.977},{"q":11,"d":60,"D":0.976},{"q":11.5,"d":60,"D":0.976},{"q":12,"d":60,"D":0.975},{"q":12.5,"d":60,"D":0.975},{"q":13,"d":60,"D":0.974},{"q":13.5,"d":60,"D":0.974},{"q":14,"d":60,"D":0.974},{"q":14.5,"d":60,"D":0.974},
      {"q":15,"d":60,"D":0.973},
      {"q":-15,"d":80,"D":1.066},{"q":-14.5,"d":80,"D":1.065},{"q":-14,"d":80,"D":1.064},{"q":-13.5,"d":80,"D":1.063},{"q":-13,"d":80,"D":1.061},{"q":-12.5,"d":80,"D":1.06},{"q":-12,"d":80,"D":1.058},{"q":-11.5,"d":80,"D":1.057},{"q":-11,"d":80,"D":1.055},{"q":-10.5,"d":80,"D":1.054},
      {"q":-10,"d":80,"D":1.052},{"q":-9.5,"d":80,"D":1.05},{"q":-9,"d":80,"D":1.048},{"q":-8.5,"d":80,"D":1.046},{"q":-8,"d":80,"D":1.044},{"q":-7.5,"d":80,"D":1.042},{"q":-7,"d":80,"D":1.04},{"q":-6.5,"d":80,"D":1.038},{"q":-6,"d":80,"D":1.036},{"q":-5.5,"d":80,"D":1.034},
      {"q":-5,"d":80,"D":1.031},{"q":-4.5,"d":80,"D":1.029},{"q":-4,"d":80,"D":1.026},{"q":-3.5,"d":80,"D":1.023},{"q":-3,"d":80,"D":1.02},{"q":-2.5,"d":80,"D":1.017},{"q":-2,"d":80,"D":1.013},{"q":-1.5,"d":80,"D":1.01},{"q":-1,"d":80,"D":1.007},{"q":-0.5,"d":80,"D":1.004},
      {"q":0,"d":80,"D":1},{"q":0.5,"d":80,"D":0.998},{"q":1,"d":80,"D":0.996},{"q":1.5,"d":80,"D":0.994},{"q":2,"d":80,"D":0.992},{"q":2.5,"d":80,"D":0.991},{"q":3,"d":80,"D":0.989},{"q":3.5,"d":80,"D":0.988},{"q":4,"d":80,"D":0.986},{"q":4.5,"d":80,"D":0.985},
      {"q":5,"d":80,"D":0.984},{"q":5.5,"d":80,"D":0.983},{"q":6,"d":80,"D":0.982},{"q":6.5,"d":80,"D":0.981},{"q":7,"d":80,"D":0.98},{"q":7.5,"d":80,"D":0.98},{"q":8,"d":80,"D":0.979},{"q":8.5,"d":80,"D":0.979},{"q":9,"d":80,"D":0.978},{"q":9.5,"d":80,"D":0.978},
      {"q":10,"d":80,"D":0.977},{"q":10.5,"d":80,"D":0.977},{"q":11,"d":80,"D":0.976},{"q":11.5,"d":80,"D":0.976},{"q":12,"d":80,"D":0.975},{"q":12.5,"d":80,"D":0.975},{"q":13,"d":80,"D":0.975},{"q":13.5,"d":80,"D":0.975},{"q":14,"d":80,"D":0.974},{"q":14.5,"d":80,"D":0.974},
      {"q":15,"d":80,"D":0.974},
      {"q":-15,"d":100,"D":1.064},{"q":-14.5,"d":100,"D":1.063},{"q":-14,"d":100,"D":1.062},{"q":-13.5,"d":100,"D":1.061},{"q":-13,"d":100,"D":1.059},{"q":-12.5,"d":100,"D":1.058},{"q":-12,"d":100,"D":1.056},{"q":-11.5,"d":100,"D":1.055},{"q":-11,"d":100,"D":1.053},{"q":-10.5,"d":100,"D":1.052},
      {"q":-10,"d":100,"D":1.05},{"q":-9.5,"d":100,"D":1.048},{"q":-9,"d":100,"D":1.046},{"q":-8.5,"d":100,"D":1.044},{"q":-8,"d":100,"D":1.042},{"q":-7.5,"d":100,"D":1.04},{"q":-7,"d":100,"D":1.038},{"q":-6.5,"d":100,"D":1.036},{"q":-6,"d":100,"D":1.034},{"q":-5.5,"d":100,"D":1.032},
      {"q":-5,"d":100,"D":1.029},{"q":-4.5,"d":100,"D":1.027},{"q":-4,"d":100,"D":1.024},{"q":-3.5,"d":100,"D":1.021},{"q":-3,"d":100,"D":1.018},{"q":-2.5,"d":100,"D":1.015},{"q":-2,"d":100,"D":1.012},{"q":-1.5,"d":100,"D":1.009},{"q":-1,"d":100,"D":1.006},{"q":-0.5,"d":100,"D":1.003},
      {"q":0,"d":100,"D":1},{"q":0.5,"d":100,"D":0.998},{"q":1,"d":100,"D":0.996},{"q":1.5,"d":100,"D":0.994},{"q":2,"d":100,"D":0.992},{"q":2.5,"d":100,"D":0.99},{"q":3,"d":100,"D":0.988},{"q":3.5,"d":100,"D":0.987},{"q":4,"d":100,"D":0.985},{"q":4.5,"d":100,"D":0.984},
      {"q":5,"d":100,"D":0.983},{"q":5.5,"d":100,"D":0.982},{"q":6,"d":100,"D":0.981},{"q":6.5,"d":100,"D":0.98},{"q":7,"d":100,"D":0.979},{"q":7.5,"d":100,"D":0.979},{"q":8,"d":100,"D":0.978},{"q":8.5,"d":100,"D":0.978},{"q":9,"d":100,"D":0.977},{"q":9.5,"d":100,"D":0.977},
      {"q":10,"d":100,"D":0.976},{"q":10.5,"d":100,"D":0.976},{"q":11,"d":100,"D":0.975},{"q":11.5,"d":100,"D":0.975},{"q":12,"d":100,"D":0.974},{"q":12.5,"d":100,"D":0.974},{"q":13,"d":100,"D":0.974},{"q":13.5,"d":100,"D":0.973},{"q":14,"d":100,"D":0.973},{"q":14.5,"d":100,"D":0.973},
      {"q":15,"d":100,"D":0.972},
      {"q":-15,"d":120,"D":1.055},{"q":-14.5,"d":120,"D":1.054},{"q":-14,"d":120,"D":1.052},{"q":-13.5,"d":120,"D":1.05},{"q":-13,"d":120,"D":1.048},{"q":-12.5,"d":120,"D":1.047},{"q":-12,"d":120,"D":1.045},{"q":-11.5,"d":120,"D":1.044},{"q":-11,"d":120,"D":1.042},{"q":-10.5,"d":120,"D":1.041},
      {"q":-10,"d":120,"D":1.039},{"q":-9.5,"d":120,"D":1.037},{"q":-9,"d":120,"D":1.035},{"q":-8.5,"d":120,"D":1.034},{"q":-8,"d":120,"D":1.032},{"q":-7.5,"d":120,"D":1.031},{"q":-7,"d":120,"D":1.029},{"q":-6.5,"d":120,"D":1.028},{"q":-6,"d":120,"D":1.026},{"q":-5.5,"d":120,"D":1.025},
      {"q":-5,"d":120,"D":1.023},{"q":-4.5,"d":120,"D":1.021},{"q":-4,"d":120,"D":1.019},{"q":-3.5,"d":120,"D":1.017},{"q":-3,"d":120,"D":1.015},{"q":-2.5,"d":120,"D":1.013},{"q":-2,"d":120,"D":1.011},{"q":-1.5,"d":120,"D":1.009},{"q":-1,"d":120,"D":1.006},{"q":-0.5,"d":120,"D":1.003},
      {"q":0,"d":120,"D":1},{"q":0.5,"d":120,"D":0.998},{"q":1,"d":120,"D":0.996},{"q":1.5,"d":120,"D":0.994},{"q":2,"d":120,"D":0.992},{"q":2.5,"d":120,"D":0.991},{"q":3,"d":120,"D":0.989},{"q":3.5,"d":120,"D":0.988},{"q":4,"d":120,"D":0.986},{"q":4.5,"d":120,"D":0.985},
      {"q":5,"d":120,"D":0.984},{"q":5.5,"d":120,"D":0.983},{"q":6,"d":120,"D":0.982},{"q":6.5,"d":120,"D":0.981},{"q":7,"d":120,"D":0.98},{"q":7.5,"d":120,"D":0.98},{"q":8,"d":120,"D":0.979},{"q":8.5,"d":120,"D":0.978},{"q":9,"d":120,"D":0.977},{"q":9.5,"d":120,"D":0.977},
      {"q":10,"d":120,"D":0.976},{"q":10.5,"d":120,"D":0.976},{"q":11,"d":120,"D":0.975},{"q":11.5,"d":120,"D":0.975},{"q":12,"d":120,"D":0.974},{"q":12.5,"d":120,"D":0.974},{"q":13,"d":120,"D":0.973},{"q":13.5,"d":120,"D":0.973},{"q":14,"d":120,"D":0.972},{"q":14.5,"d":120,"D":0.972},
      {"q":15,"d":120,"D":0.971},
      {"q":-15,"d":140,"D":1.035},{"q":-14.5,"d":140,"D":1.034},{"q":-14,"d":140,"D":1.033},{"q":-13.5,"d":140,"D":1.032},{"q":-13,"d":140,"D":1.031},{"q":-12.5,"d":140,"D":1.03},{"q":-12,"d":140,"D":1.029},{"q":-11.5,"d":140,"D":1.028},{"q":-11,"d":140,"D":1.027},{"q":-10.5,"d":140,"D":1.026},
      {"q":-10,"d":140,"D":1.025},{"q":-9.5,"d":140,"D":1.024},{"q":-9,"d":140,"D":1.022},{"q":-8.5,"d":140,"D":1.021},{"q":-8,"d":140,"D":1.02},{"q":-7.5,"d":140,"D":1.019},{"q":-7,"d":140,"D":1.018},{"q":-6.5,"d":140,"D":1.017},{"q":-6,"d":140,"D":1.015},{"q":-5.5,"d":140,"D":1.014},
      {"q":-5,"d":140,"D":1.013},{"q":-4.5,"d":140,"D":1.012},{"q":-4,"d":140,"D":1.01},{"q":-3.5,"d":140,"D":1.009},{"q":-3,"d":140,"D":1.008},{"q":-2.5,"d":140,"D":1.007},{"q":-2,"d":140,"D":1.005},{"q":-1.5,"d":140,"D":1.004},{"q":-1,"d":140,"D":1.003},{"q":-0.5,"d":140,"D":1.002},
      {"q":0,"d":140,"D":1},{"q":0.5,"d":140,"D":0.999},{"q":1,"d":140,"D":0.998},{"q":1.5,"d":140,"D":0.997},{"q":2,"d":140,"D":0.995},{"q":2.5,"d":140,"D":0.994},{"q":3,"d":140,"D":0.993},{"q":3.5,"d":140,"D":0.992},{"q":4,"d":140,"D":0.991},{"q":4.5,"d":140,"D":0.991},
      {"q":5,"d":140,"D":0.99},{"q":5.5,"d":140,"D":0.989},{"q":6,"d":140,"D":0.988},{"q":6.5,"d":140,"D":0.988},{"q":7,"d":140,"D":0.987},{"q":7.5,"d":140,"D":0.986},{"q":8,"d":140,"D":0.985},{"q":8.5,"d":140,"D":0.985},{"q":9,"d":140,"D":0.984},{"q":9.5,"d":140,"D":0.984},
      {"q":10,"d":140,"D":0.983},{"q":10.5,"d":140,"D":0.983},{"q":11,"d":140,"D":0.982},{"q":11.5,"d":140,"D":0.982},{"q":12,"d":140,"D":0.981},{"q":12.5,"d":140,"D":0.981},{"q":13,"d":140,"D":0.98},{"q":13.5,"d":140,"D":0.98},{"q":14,"d":140,"D":0.98},{"q":14.5,"d":140,"D":0.98},
      {"q":15,"d":140,"D":0.979}
    ]
  },
  "columns": 2,
  "spacing": {"row": 17, "column": 23},
  "bounds": "flush",
  "resolve": {
    "scale": {"shape": "independent", "fill": "independent"},
    "legend": {"shape": "independent", "fill": "independent"}
  },
  "concat": [
    {
      "width": 445, "height": 326,
      "layer": [
        {
          "data": {"name": "jul"},
          "mark": {"type": "point", "filled": true, "stroke": "black", "strokeWidth": 1, "opacity": 1, "size": 52},
          "encoding": {
            "x": {"field": "q", "type": "quantitative", "scale": {"domain": [-16.4, 16.4], "nice": false, "zero": false},
                  "axis": {"values": [-15, -10, -5, 0, 5, 10, 15], "labels": false, "title": null}},
            "y": {"field": "D", "type": "quantitative", "scale": {"domain": [0.8, 1.1], "nice": false, "zero": false},
                  "axis": {"values": [0.8, 0.9, 1.0, 1.1], "format": ".1f", "labelPadding": 31, "title": "Dq",
                           "titleX": -74, "titleY": 320, "titleAngle": -90, "titleAlign": "center", "titleBaseline": "alphabetic"}},
            "shape": {"field": "d", "type": "ordinal",
                      "scale": {"domain": [20, 40, 60, 80, 100, 120, 140], "range": ["circle", "circle", "triangle-down", "triangle-up", "square", "square", "diamond"]},
                      "legend": {"orient": "none", "legendX": 22, "legendY": 134, "title": null, "padding": 0,
                                 "labelExpr": "'0-' + datum.label + ' cm'", "labelFont": "Liberation Serif", "labelFontWeight": "bold",
                                 "labelFontSize": 20, "labelColor": "black", "labelOffset": 32, "rowPadding": 5,
                                 "symbolSize": 64, "symbolOpacity": 1,
                                 "encode": {"symbols": {"update": {"stroke": {"value": "black"}, "strokeWidth": {"value": 1}}}}}},
            "fill": {"field": "d", "type": "ordinal",
                     "scale": {"domain": [20, 40, 60, 80, 100, 120, 140], "range": ["black", "white", "black", "white", "black", "white", "black"]},
                     "legend": {"orient": "none", "legendX": 22, "legendY": 134, "title": null, "padding": 0,
                                "labelExpr": "'0-' + datum.label + ' cm'", "labelFont": "Liberation Serif", "labelFontWeight": "bold",
                                "labelFontSize": 20, "labelColor": "black", "labelOffset": 32, "rowPadding": 5,
                                "symbolSize": 64, "symbolOpacity": 1,
                                "encode": {"symbols": {"update": {"stroke": {"value": "black"}, "strokeWidth": {"value": 1}}}}}}
          }
        },
        {
          "data": {"values": [{"label": "17 July 2007"}]},
          "mark": {"type": "text", "font": "Liberation Serif", "fontWeight": "bold", "fontSize": 31, "align": "left", "baseline": "alphabetic", "color": "black"},
          "encoding": {"x": {"datum": -2.4, "type": "quantitative"}, "y": {"datum": 0.8285, "type": "quantitative"}, "text": {"field": "label"}}
        }
      ]
    },
    {
      "width": 445, "height": 326,
      "layer": [
        {
          "data": {"name": "sep"},
          "mark": {"type": "point", "filled": true, "stroke": "black", "strokeWidth": 1, "opacity": 1, "size": 52},
          "encoding": {
            "x": {"field": "q", "type": "quantitative", "scale": {"domain": [-16.4, 16.4], "nice": false, "zero": false},
                  "axis": {"values": [-15, -10, -5, 0, 5, 10, 15], "labels": false, "title": null}},
            "y": {"field": "D", "type": "quantitative", "scale": {"domain": [0.8, 1.1], "nice": false, "zero": false},
                  "axis": {"values": [0.8, 0.9, 1.0, 1.1], "labels": false, "title": null}},
            "shape": {"field": "d", "type": "ordinal",
                      "scale": {"domain": [20, 40, 60, 80, 100, 120, 140], "range": ["circle", "circle", "triangle-down", "triangle-up", "square", "square", "diamond"]},
                      "legend": null},
            "fill": {"field": "d", "type": "ordinal",
                     "scale": {"domain": [20, 40, 60, 80, 100, 120, 140], "range": ["black", "white", "black", "white", "black", "white", "black"]},
                     "legend": null}
          }
        },
        {
          "data": {"values": [{"label": "1 September 2007"}]},
          "mark": {"type": "text", "font": "Liberation Serif", "fontWeight": "bold", "fontSize": 31, "align": "left", "baseline": "alphabetic", "color": "black"},
          "encoding": {"x": {"datum": -15.8, "type": "quantitative"}, "y": {"datum": 0.833, "type": "quantitative"}, "text": {"field": "label"}}
        }
      ]
    },
    {
      "width": 445, "height": 324,
      "layer": [
        {
          "data": {"name": "aug"},
          "mark": {"type": "point", "filled": true, "stroke": "black", "strokeWidth": 1, "opacity": 1, "size": 52},
          "encoding": {
            "x": {"field": "q", "type": "quantitative", "scale": {"domain": [-16.4, 16.4], "nice": false, "zero": false},
                  "axis": {"values": [-15, -10, -5, 0, 5, 10, 15], "labelExpr": "'' + datum.value", "labelPadding": 29, "title": "q",
                           "titleX": 457, "titleY": 86, "titleAlign": "center", "titleBaseline": "alphabetic"}},
            "y": {"field": "D", "type": "quantitative", "scale": {"domain": [0.8, 1.1], "nice": false, "zero": false},
                  "axis": {"values": [0.8, 0.9, 1.0, 1.1], "format": ".1f", "labelPadding": 31, "title": null}},
            "shape": {"field": "d", "type": "ordinal",
                      "scale": {"domain": [20, 40, 60, 80, 100, 120, 140], "range": ["circle", "circle", "triangle-down", "triangle-up", "square", "square", "diamond"]},
                      "legend": null},
            "fill": {"field": "d", "type": "ordinal",
                     "scale": {"domain": [20, 40, 60, 80, 100, 120, 140], "range": ["black", "white", "black", "white", "black", "white", "black"]},
                     "legend": null}
          }
        },
        {
          "data": {"values": [{"label": "7 August 2007"}]},
          "mark": {"type": "text", "font": "Liberation Serif", "fontWeight": "bold", "fontSize": 31, "align": "left", "baseline": "alphabetic", "color": "black"},
          "encoding": {"x": {"datum": -15.66, "type": "quantitative"}, "y": {"datum": 0.8296, "type": "quantitative"}, "text": {"field": "label"}}
        }
      ]
    },
    {
      "width": 445, "height": 324,
      "layer": [
        {
          "data": {"name": "oct"},
          "mark": {"type": "point", "filled": true, "stroke": "black", "strokeWidth": 1, "opacity": 1, "size": 52},
          "encoding": {
            "x": {"field": "q", "type": "quantitative", "scale": {"domain": [-16.4, 16.4], "nice": false, "zero": false},
                  "axis": {"values": [-15, -10, -5, 0, 5, 10, 15], "labelExpr": "'' + datum.value", "labelPadding": 29, "title": null}},
            "y": {"field": "D", "type": "quantitative", "scale": {"domain": [0.8, 1.1], "nice": false, "zero": false},
                  "axis": {"values": [0.8, 0.9, 1.0, 1.1], "labels": false, "title": null}},
            "shape": {"field": "d", "type": "ordinal",
                      "scale": {"domain": [20, 40, 60, 80, 100, 120, 140], "range": ["circle", "circle", "triangle-down", "triangle-up", "square", "square", "diamond"]},
                      "legend": null},
            "fill": {"field": "d", "type": "ordinal",
                     "scale": {"domain": [20, 40, 60, 80, 100, 120, 140], "range": ["black", "white", "black", "white", "black", "white", "black"]},
                     "legend": null}
          }
        },
        {
          "data": {"values": [{"label": "12 October 2007"}]},
          "mark": {"type": "text", "font": "Liberation Serif", "fontWeight": "bold", "fontSize": 31, "align": "left", "baseline": "alphabetic", "color": "black"},
          "encoding": {"x": {"datum": -15.46, "type": "quantitative"}, "y": {"datum": 0.8315, "type": "quantitative"}, "text": {"field": "label"}}
        }
      ]
    }
  ]
}
